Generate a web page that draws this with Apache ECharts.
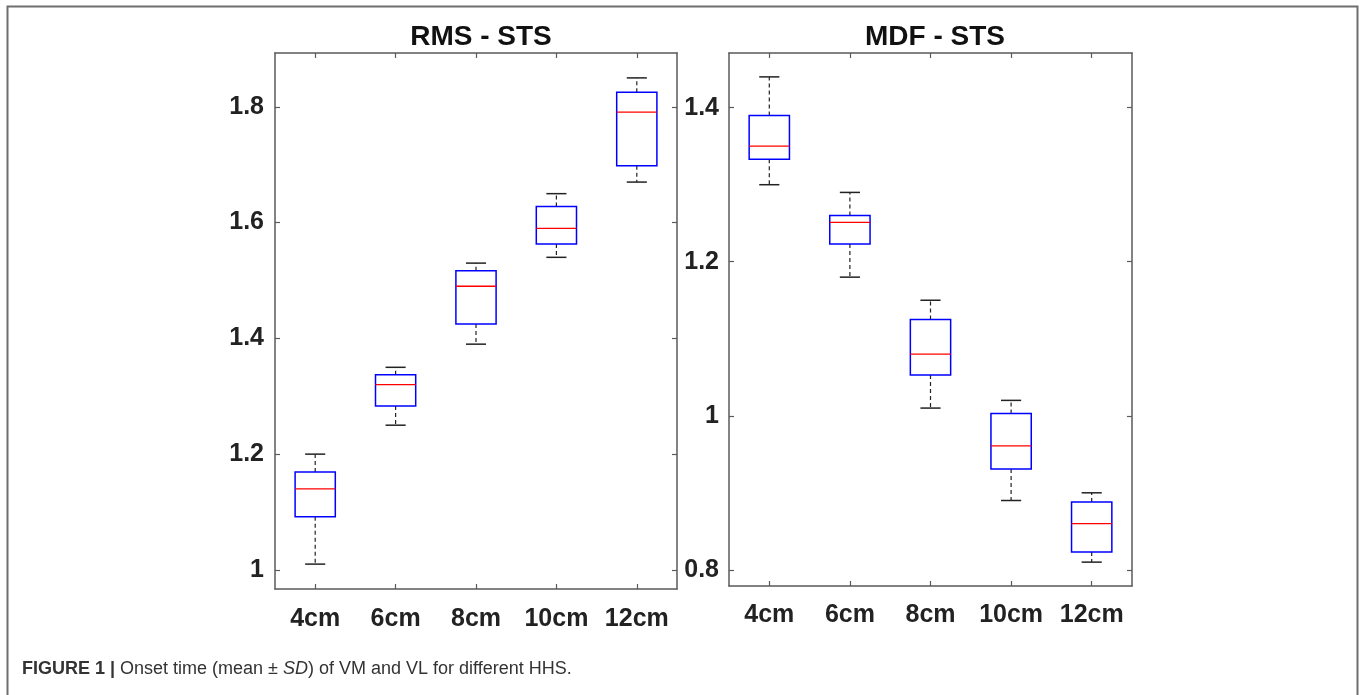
<!DOCTYPE html>
<html>
<head>
<meta charset="utf-8">
<title>Onset time - RMS / MDF - STS</title>
<script src="https://cdn.jsdelivr.net/npm/echarts@6/dist/echarts.min.js"></script>
<style>
    html, body { margin: 0; padding: 0; background: #fff; }
    #main { width: 1360px; height: 695px; }
</style>
</head>
<body>
<div id="main"></div>
<script type="text/javascript">
    var categories = ['4cm', '6cm', '8cm', '10cm', '12cm'];

    // each box: [min, q1, median, q3, max]
    var rmsBoxes = [
        [1.01, 1.092, 1.140, 1.169, 1.20],
        [1.25, 1.283, 1.320, 1.337, 1.35],
        [1.39, 1.425, 1.490, 1.517, 1.53],
        [1.54, 1.563, 1.590, 1.628, 1.65],
        [1.67, 1.698, 1.791, 1.825, 1.85]
    ];
    var mdfBoxes = [
        [1.30, 1.333, 1.350, 1.390, 1.44],
        [1.18, 1.223, 1.251, 1.260, 1.29],
        [1.01, 1.053, 1.080, 1.125, 1.15],
        [0.89, 0.931, 0.961, 1.003, 1.02],
        [0.81, 0.823, 0.860, 0.888, 0.90]
    ];

    var rmsTicks = [1, 1.2, 1.4, 1.6, 1.8];
    var mdfTicks = [0.8, 1, 1.2, 1.4];

    var fontFam = 'Liberation Sans, Arial, Helvetica, sans-serif';
    var axisColor = '#5a5a5a';

    // whiskers dashed black, box blue, median red (matlab boxplot look)
    function renderBox(params, api) {
        var x = api.value(0);
        var pMin = api.coord([x, api.value(1)]);
        var pQ1 = api.coord([x, api.value(2)]);
        var pMed = api.coord([x, api.value(3)]);
        var pQ3 = api.coord([x, api.value(4)]);
        var pMax = api.coord([x, api.value(5)]);
        var band = api.size([1, 0])[0];
        var bw = band * 0.5;
        var cw = band * 0.25;
        var cx = pMin[0];
        var dash = { stroke: '#222', lineWidth: 1.2, lineDash: [4, 3] };
        var cap = { stroke: '#222', lineWidth: 1.5 };
        return {
            type: 'group',
            children: [
                { type: 'line', shape: { x1: cx, y1: pQ3[1], x2: cx, y2: pMax[1] }, style: dash },
                { type: 'line', shape: { x1: cx, y1: pQ1[1], x2: cx, y2: pMin[1] }, style: dash },
                { type: 'line', shape: { x1: cx - cw / 2, y1: pMax[1], x2: cx + cw / 2, y2: pMax[1] }, style: cap },
                { type: 'line', shape: { x1: cx - cw / 2, y1: pMin[1], x2: cx + cw / 2, y2: pMin[1] }, style: cap },
                { type: 'rect', shape: { x: cx - bw / 2, y: pQ3[1], width: bw, height: pQ1[1] - pQ3[1] },
                  style: { fill: 'none', stroke: '#0000ff', lineWidth: 1.5 } },
                { type: 'line', shape: { x1: cx - bw / 2, y1: pMed[1], x2: cx + bw / 2, y2: pMed[1] },
                  style: { stroke: '#ff0000', lineWidth: 1.3 } }
            ]
        };
    }

    function catAxis(gi, pos, showLabel, margin) {
        return {
            type: 'category', gridIndex: gi, position: pos, data: categories,
            boundaryGap: true,
            axisLine: { show: true, lineStyle: { color: axisColor, width: 1.5 } },
            axisTick: { show: true, inside: true, length: 5, alignWithLabel: true, interval: 0,
                        lineStyle: { color: axisColor, width: 1.2 } },
            axisLabel: { show: showLabel, interval: 0, margin: margin, color: '#222',
                         fontFamily: fontFam, fontWeight: 'bold', fontSize: 25 },
            splitLine: { show: false }
        };
    }

    function valAxis(gi, pos, mn, mx, ticks, showLabel, margin) {
        return {
            type: 'value', gridIndex: gi, position: pos, min: mn, max: mx,
            axisLine: { show: true, lineStyle: { color: axisColor, width: 1.5 } },
            axisTick: { show: true, inside: true, length: 5, customValues: ticks,
                        lineStyle: { color: axisColor, width: 1.2 } },
            axisLabel: { show: showLabel, customValues: ticks, margin: margin, color: '#222',
                         fontFamily: fontFam, fontWeight: 'bold', fontSize: 25 },
            splitLine: { show: false }
        };
    }

    var myChart = echarts.init(document.getElementById('main'));
    var option = {
        animation: false,
        backgroundColor: '#fff',
        title: [
            { text: 'RMS - STS', left: 476, top: 18, textAlign: 'center',
              textStyle: { fontFamily: fontFam, fontWeight: 'bold', fontSize: 28, color: '#111' } },
            { text: 'MDF - STS', left: 930, top: 18, textAlign: 'center',
              textStyle: { fontFamily: fontFam, fontWeight: 'bold', fontSize: 28, color: '#111' } }
        ],
        grid: [
            { left: 275, top: 53, width: 402, height: 536 },
            { left: 729, top: 53, width: 403, height: 533 }
        ],
        xAxis: [
            catAxis(0, 'bottom', true, 18),
            catAxis(0, 'top', false, 8),
            catAxis(1, 'bottom', true, 17),
            catAxis(1, 'top', false, 8)
        ],
        yAxis: [
            valAxis(0, 'left', 0.967, 1.893, rmsTicks, true, 11),
            valAxis(0, 'right', 0.967, 1.893, rmsTicks, false, 8),
            valAxis(1, 'left', 0.779, 1.471, mdfTicks, true, 10),
            valAxis(1, 'right', 0.779, 1.471, mdfTicks, false, 8)
        ],
        graphic: [
            { type: 'rect', left: 5, top: 4, silent: true,
              shape: { width: 1350, height: 720 },
              style: { fill: 'none', stroke: '#6e6e6e', lineWidth: 2 } },
            { type: 'text', left: 22, top: 660,
              style: {
                  text: '{b|FIGURE 1 |} Onset time (mean \u00b1 {i|SD}) of VM and VL for different HHS.',
                  fontFamily: fontFam, fontSize: 18, fill: '#333',
                  rich: {
                      b: { fontFamily: fontFam, fontSize: 18, fontWeight: 'bold', color: '#333' },
                      i: { fontFamily: fontFam, fontSize: 18, fontStyle: 'italic', color: '#333' }
                  }
              } }
        ],
        series: [
            { type: 'custom', name: 'RMS - STS', xAxisIndex: 0, yAxisIndex: 0,
              renderItem: renderBox, encode: { x: 0, y: [1, 2, 3, 4, 5] },
              data: rmsBoxes.map(function (b, i) { return [i].concat(b); }) },
            { type: 'custom', name: 'MDF - STS', xAxisIndex: 2, yAxisIndex: 2,
              renderItem: renderBox, encode: { x: 0, y: [1, 2, 3, 4, 5] },
              data: mdfBoxes.map(function (b, i) { return [i].concat(b); }) }
        ]
    };
    myChart.setOption(option);
</script>
</body>
</html>
